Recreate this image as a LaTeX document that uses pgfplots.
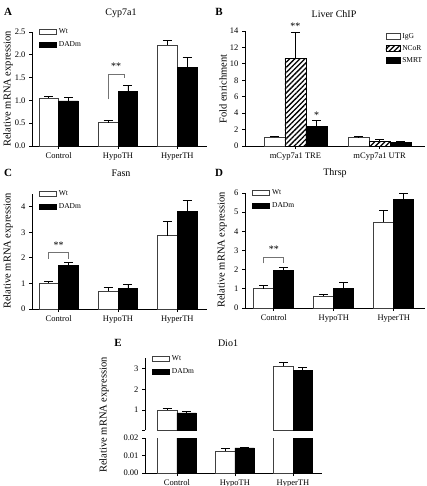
\documentclass[border=0pt]{standalone}
\usepackage{fontspec}
\setmainfont{Liberation Serif}
\usepackage{pgfplots}
\pgfplotsset{compat=1.18}
\usetikzlibrary{patterns.meta}

\tikzset{star/.style={font=\fontsize{10}{10}\selectfont}}
\pgfplotsset{
  legbox/.style={legend image code/.code={\draw[##1] (0pt,-2.6pt) rectangle (#1,2.6pt);}},
  gp/.style={
    scale only axis, anchor=south west,
    axis x line*=bottom, axis y line*=left,
    axis line style={line width=0.9pt, -},
    every tick/.style={line width=0.8pt, black},
    tick align=outside, major tick length=3pt,
    ymin=0, xmin=-0.45, xmax=2.5,
    xtick={0,1,2}, xticklabels={Control,HypoTH,HyperTH},
    yticklabel style={font=\fontsize{8.5}{10}\selectfont},
    xticklabel style={font=\fontsize{8.5}{10}\selectfont},
    /pgf/number format/assume math mode=true,
    scaled y ticks=false,
    clip=false,
    legend style={draw=none, fill=none, font=\fontsize{7.5}{9}\selectfont, row sep=2.5pt, inner sep=0pt, cells={anchor=west}},
    legend cell align=left,
  },
  ebs/.style={/pgfplots/error bars/y dir=plus, /pgfplots/error bars/y explicit,
    /pgfplots/error bars/error bar style={line width=0.8pt, black},
    /pgfplots/error bars/error mark options={rotate=90, mark size=4.5pt, line width=0.8pt, black}},
  wt/.style={ybar, bar width=0.333, bar shift=0, fill=white, draw=black!75, line width=0.7pt, ebs},
  dm/.style={ybar, bar width=0.333, bar shift=0, fill=black, draw=black, line width=0.7pt, ebs},
  brk/.style={black!55, line width=0.8pt, no marks, sharp plot, forget plot},
}

\begin{document}
\begin{tikzpicture}
\useasboundingbox (0,0) rectangle (427pt,-486pt);
\tikzset{lab/.style={font=\fontsize{11}{11}\selectfont\bfseries},
         ttl/.style={font=\fontsize{10}{10}\selectfont},
         ylab/.style={font=\fontsize{10.5}{10.5}\selectfont, rotate=90}}

% ---------------- Panel A ----------------
\begin{axis}[gp, at={(32pt,-146pt)}, width=175pt, height=114pt,
  ymax=2.5, ytick={0,0.5,1,1.5,2,2.5},
  yticklabel style={/pgf/number format/.cd, fixed, fixed zerofill, precision=1},
  legend style={at={(rel axis cs:0.04,1.05)}, anchor=north west}]
\addplot[wt, legbox=17pt] coordinates {(-0.1667,1.05) +- (0,0.03) (0.8333,0.51) +- (0,0.06) (1.8333,2.21) +- (0,0.11)};
\addlegendentry{Wt}
\addplot[dm, legbox=17pt] coordinates {(0.1667,0.99) +- (0,0.07) (1.1667,1.19) +- (0,0.13) (2.1667,1.73) +- (0,0.22)};
\addlegendentry{DADm}
\addplot[brk] coordinates {(0.8333,1.02) (0.8333,1.58) (1.1,1.58) (1.1,1.49)};
\node[star] at (axis cs:0.97,1.74) {**};
\end{axis}

% ---------------- Panel B ----------------
\begin{axis}[gp, at={(245pt,-146pt)}, width=180pt, height=115pt,
  ymax=14, ytick={0,2,4,6,8,10,12,14},
  xmin=-0.6, xmax=1.54, xtick={0,1}, xticklabels={mCyp7a1 TRE, mCyp7a1 UTR},
  legend style={at={(rel axis cs:0.78,1.0)}, anchor=north west, row sep=1.5pt}]
\addplot[wt, bar width=0.25, draw=black!75, legbox=14pt] coordinates {(-0.25,1.05) +- (0,0.12) (0.75,1.05) +- (0,0.08)};
\addlegendentry{IgG}
\addplot[wt, bar width=0.25, draw=black, pattern={Lines[angle=45, distance=3.6pt, line width=1.3pt]}, legbox=14pt] coordinates {(0,10.63) +- (0,3.2) (1,0.6) +- (0,0.15)};
\addlegendentry{NCoR}
\addplot[dm, bar width=0.25, legbox=14pt] coordinates {(0.25,2.43) +- (0,0.7) (1.25,0.45) +- (0,0.15)};
\addlegendentry{SMRT}
\node[star] at (axis cs:0,14.6) {**};
\node[star] at (axis cs:0.25,3.75) {*};
\end{axis}

% ---------------- Panel C ----------------
\begin{axis}[gp, at={(32pt,-309pt)}, width=175pt, height=115pt,
  ymax=4.5, ytick={0,1,2,3,4},
  legend style={at={(rel axis cs:0.04,1.05)}, anchor=north west}]
\addplot[wt, legbox=17pt] coordinates {(-0.1667,1.01) +- (0,0.06) (0.8333,0.70) +- (0,0.15) (1.8333,2.87) +- (0,0.55)};
\addlegendentry{Wt}
\addplot[dm, legbox=17pt] coordinates {(0.1667,1.69) +- (0,0.12) (1.1667,0.81) +- (0,0.16) (2.1667,3.82) +- (0,0.42)};
\addlegendentry{DADm}
\addplot[brk] coordinates {(-0.1667,1.97) (-0.1667,2.21) (0.1667,2.21) (0.1667,1.97)};
\node[star] at (axis cs:0,2.5) {**};
\end{axis}

% ---------------- Panel D ----------------
\begin{axis}[gp, at={(245pt,-308pt)}, width=180pt, height=115pt,
  xmin=-0.48, xmax=2.52,
  ymax=6, ytick={0,1,2,3,4,5,6},
  legend style={at={(rel axis cs:0.04,1.05)}, anchor=north west}]
\addplot[wt, legbox=17pt] coordinates {(-0.1667,1.0) +- (0,0.2) (0.8333,0.61) +- (0,0.08) (1.8333,4.49) +- (0,0.58)};
\addlegendentry{Wt}
\addplot[dm, legbox=17pt] coordinates {(0.1667,1.95) +- (0,0.15) (1.1667,1.04) +- (0,0.27) (2.1667,5.67) +- (0,0.3)};
\addlegendentry{DADm}
\addplot[brk] coordinates {(-0.1667,2.33) (-0.1667,2.63) (0.1667,2.63) (0.1667,2.33)};
\node[star] at (axis cs:0,3.05) {**};
\end{axis}

% ---------------- Panel E (upper) ----------------
\begin{axis}[gp, at={(145pt,-430pt)}, width=177pt, height=72pt,
  xmin=-0.55, xmax=2.5, clip=true,
  ymin=0.05, ymax=3.5, ytick={0.05,1,2,3}, yticklabels={,1,2,3},
  axis x line=none,
  legend style={at={(rel axis cs:0.04,1.06)}, anchor=north west}]
\addplot[wt, legbox=17pt] coordinates {(-0.1667,1.0) +- (0,0.07) (1.8333,3.1) +- (0,0.2)};
\addlegendentry{Wt}
\addplot[dm, legbox=17pt] coordinates {(0.1667,0.87) +- (0,0.09) (2.1667,2.9) +- (0,0.15)};
\addlegendentry{DADm}
\end{axis}

% ---------------- Panel E (lower) ----------------
\begin{axis}[gp, at={(145pt,-473pt)}, width=177pt, height=35pt,
  xmin=-0.55, xmax=2.5, clip=true,
  ymin=0, ymax=0.02, ytick={0,0.01,0.02},
  yticklabel style={/pgf/number format/.cd, fixed, fixed zerofill, precision=2}]
\addplot[wt] coordinates {(-0.1667,1.0) +- (0,0.07) (0.8333,0.0125) +- (0,0.0013) (1.8333,3.1) +- (0,0.2)};
\addplot[dm] coordinates {(0.1667,0.87) +- (0,0.09) (1.1667,0.0143) +- (0,0.0004) (2.1667,2.9) +- (0,0.15)};
\end{axis}

% ---------------- labels ----------------
\node[lab] at (8pt,-12pt) {A};
\node[lab] at (219pt,-12pt) {B};
\node[lab] at (8pt,-173pt) {C};
\node[lab] at (219pt,-173pt) {D};
\node[lab] at (118pt,-343pt) {E};
\node[ttl] at (121pt,-13pt) {Cyp7a1};
\node[ttl] at (334pt,-14pt) {Liver ChIP};
\node[ttl] at (121pt,-173pt) {Fasn};
\node[ttl] at (335pt,-173pt) {Thrsp};
\node[ttl] at (228pt,-343pt) {Dio1};
\node[ylab] at (8pt,-89pt) {Relative mRNA expression};
\node[ylab] at (223pt,-89pt) {Fold enrichment};
\node[ylab] at (8pt,-251pt) {Relative mRNA expression};
\node[ylab] at (222pt,-250pt) {Relative mRNA expression};
\node[ylab] at (104pt,-415pt) {Relative mRNA expression};
\end{tikzpicture}
\end{document}
